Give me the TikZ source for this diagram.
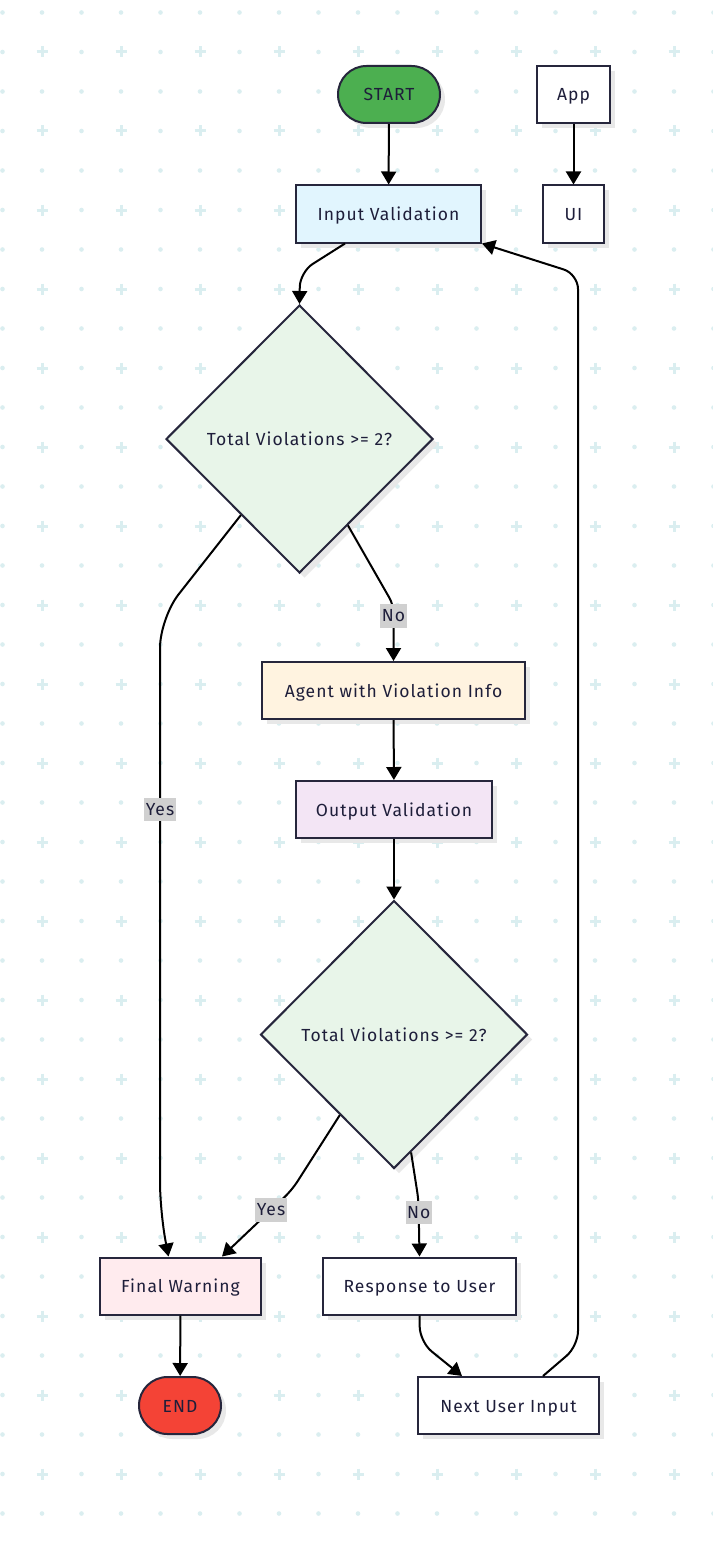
\documentclass[tikz,border=0pt]{standalone}
\usepackage{fontspec}
\setmainfont{Fira Sans}[LetterSpace=6]
\usetikzlibrary{arrows.meta,shapes.geometric,shadows,calc}
\definecolor{gridc}{RGB}{218,238,240}
\definecolor{bordc}{RGB}{38,38,60}
\definecolor{txtc}{RGB}{30,30,58}
\definecolor{startg}{RGB}{76,175,80}
\definecolor{endr}{RGB}{244,67,54}
\definecolor{inblue}{RGB}{225,245,254}
\definecolor{dgreen}{RGB}{232,245,233}
\definecolor{aorange}{RGB}{255,243,224}
\definecolor{opurple}{RGB}{243,229,245}
\definecolor{fpink}{RGB}{255,235,238}
\definecolor{lblgray}{RGB}{208,208,208}
\tikzset{
  shad/.style={drop shadow={shadow xshift=5pt,shadow yshift=-5pt,fill=black!9,opacity=1}},
  box/.style={rectangle, draw=bordc, line width=2pt, text=txtc, minimum height=57pt, inner sep=0pt, text height=13pt, text depth=0pt, font=\fontsize{17.5}{20}\selectfont, shad},
  term/.style={box, rounded corners=28.5pt},
  dia/.style={diamond, draw=bordc, line width=2pt, fill=dgreen, text=txtc, minimum width=267pt, minimum height=268pt, inner sep=0pt, text height=13pt, text depth=0pt, font=\fontsize{17.5}{20}\selectfont, shad},
  flow/.style={draw=black, line width=2pt, -{Triangle[length=13pt,width=15pt]}},
  lbl/.style={fill=lblgray, text=txtc, inner xsep=1.5pt, inner ysep=4pt, text height=13.5pt, text depth=2pt, font=\fontsize{17.5}{20}\selectfont}
}
\begin{document}
\begin{tikzpicture}[x=1pt,y=-1pt]
\useasboundingbox (0,0) rectangle (712,1541);
\fill[white] (0,0) rectangle (712,1541);
% background pattern
\foreach \j in {0,...,18} {
  \foreach \k in {0,...,38} {
    \pgfmathsetmacro{\px}{2.5+39.5*\j}
    \pgfmathsetmacro{\py}{12.5+39.5*\k}
    \pgfmathparse{int(mod(\j,2)*mod(\k,2))}
    \ifnum\pgfmathresult=1
      \draw[gridc, line width=3pt] (\px-5.5,\py) -- (\px+5.5,\py) (\px,\py-5.5) -- (\px,\py+5.5);
    \else
      \fill[gridc] (\px,\py) circle (2.3pt);
    \fi
  }
}
% nodes
\node[term, fill=startg, minimum width=102pt] (start) at (389,94.5) {START};
\node[box, fill=white, minimum width=73pt] (app) at (573.5,94.5) {App};
\node[box, fill=inblue, minimum width=185pt] (iv) at (388.5,214) {Input Validation};
\node[box, fill=white, minimum width=61pt] (ui) at (573.5,214) {UI};
\node[dia] (d1) at (299.5,439) {Total Violations >= 2?};
\node[box, fill=aorange, minimum width=263pt] (ag) at (393.5,690.5) {Agent with Violation Info};
\node[box, fill=opurple, minimum width=196pt] (ov) at (394,809.5) {Output Validation};
\node[dia] (d2) at (394,1034.5) {Total Violations >= 2?};
\node[box, fill=fpink, minimum width=161pt] (fw) at (180.5,1286) {Final Warning};
\node[box, fill=white, minimum width=193pt] (rs) at (419.5,1286) {Response to User};
\node[term, fill=endr, minimum width=82pt] (end) at (180,1405.5) {END};
\node[box, fill=white, minimum width=181pt] (nx) at (508.5,1405.5) {Next User Input};
% edges
\draw[flow] (start) -- (iv);
\draw[flow] (app) -- (ui);
\draw[flow, rounded corners=15pt] ([xshift=-43.5pt]iv.south) -- (300,272) -- (d1.north);
\draw[flow, rounded corners=30pt] ($(d1.west)!0.564!(d1.south)$) -- (160,618) -- node[lbl, pos=0.322, rounded corners=0pt] {Yes} (160,1212) -- ([xshift=-12pt]fw.north);
\draw[flow, rounded corners=8pt] ($(d1.east)!0.64!(d1.south)$) -- (393.5,605) -- node[lbl, pos=0.2, rounded corners=0pt] {No} (ag.north);
\draw[flow] (ag) -- (ov);
\draw[flow] (ov) -- (d2.north);
\draw[flow, rounded corners=10pt] ($(d2.west)!0.597!(d2.south)$) -- (292,1190) -- node[lbl, pos=0.3, rounded corners=0pt] {Yes} ([xshift=41.5pt]fw.north);
\draw[flow, rounded corners=8pt] ($(d2.east)!0.873!(d2.south)$) -- (418.5,1200) -- node[lbl, pos=0.22, rounded corners=0pt] {No} (rs.north);
\draw[flow] (fw) -- (end);
\draw[flow, rounded corners=15pt] (rs.south) -- (420,1342) -- ([xshift=-46.5pt]nx.north);
\draw[flow, rounded corners=15pt] ([xshift=34.5pt]nx.north) -- (578,1346) -- (578,274) -- (iv.south east);
\end{tikzpicture}
\end{document}
